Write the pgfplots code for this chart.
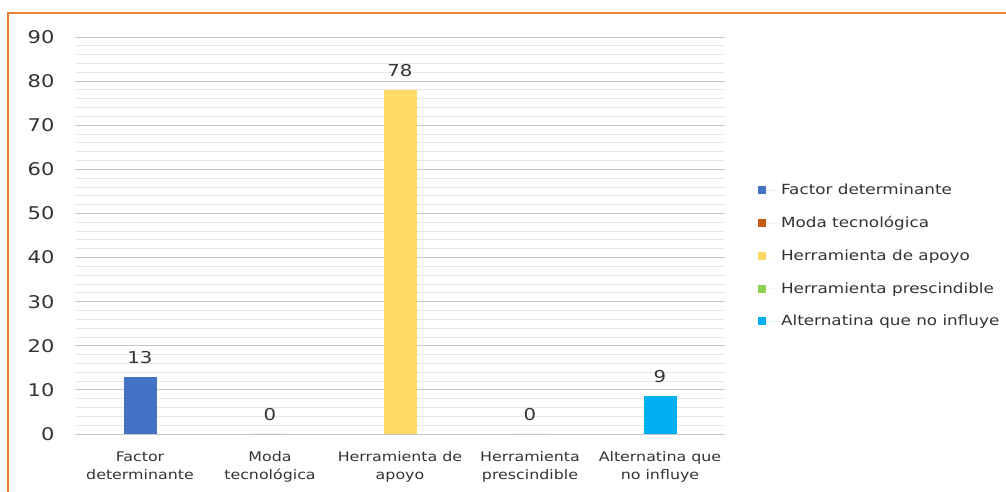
\documentclass[border=0pt]{standalone}
\usepackage{fontspec}
\setmainfont{DejaVu Sans}[FakeStretch=1.2]
\usepackage{pgfplots}
\pgfplotsset{compat=1.18}
\definecolor{cblue}{HTML}{4472C4}
\definecolor{corange}{HTML}{C55A11}
\definecolor{cyellow}{HTML}{FFD966}
\definecolor{cgreen}{HTML}{92D050}
\definecolor{ccyan}{HTML}{00B0F0}
\definecolor{frame}{HTML}{ED7D31}
\definecolor{txt}{HTML}{333333}
\begin{document}
\begin{tikzpicture}[x=1pt,y=1pt]
\useasboundingbox (0,0) rectangle (1006,492);
\draw[frame, line width=2.5pt] (8,0) -- (8,479) -- (1006,479);
\begin{axis}[
    at={(75pt,58pt)}, anchor=south west,
    scale only axis, width=650pt, height=397pt,
    xmin=-0.5, xmax=4.5, ymin=0, ymax=90,
    ybar, bar width=33pt, bar shift=0pt,
    axis line style={draw=none},
    major tick length=0pt, minor tick length=0pt,
    ytick={0,10,...,90}, minor y tick num=4,
    ymajorgrids, yminorgrids,
    major grid style={gray!45, line width=0.9pt},
    minor grid style={gray!18, line width=0.9pt},
    xtick={0,1,2,3,4},
    xticklabels={Factor\\determinante, Moda\\tecnológica, Herramienta de\\apoyo,
        Herramienta\\prescindible, Alternatina que\\no influye},
    x tick label style={font=\fontsize{13.2}{18}\selectfont, align=center,
        text=txt, yshift=-14pt},
    y tick label style={font=\fontsize{17.5}{20}\selectfont, text=txt, xshift=-17pt},
    /pgf/number format/assume math mode=true,
    nodes near coords={\pgfmathprintnumber[fixed,precision=0]{\pgfplotspointmeta}},
    nodes near coords style={font=\fontsize{16.4}{19}\selectfont, text=txt, yshift=10pt},
    legend style={at={(1.046,0.640)}, anchor=north west, draw=none,
        font=\fontsize{14}{17}\selectfont, text=txt, row sep=16.5pt,
        legend cell align=left},
    legend image code/.code={\fill[#1] (0pt,-4pt) rectangle (8pt,4pt);
        \path (0pt,0pt) -- (21pt,0pt);},
]
\addplot[fill=cblue, draw=none] coordinates {(0,12.9)};
\addlegendentry{Factor determinante}
\addplot[fill=corange, draw=none] coordinates {(1,0)};
\addlegendentry{Moda tecnológica}
\addplot[fill=cyellow, draw=none] coordinates {(2,78)};
\addlegendentry{Herramienta de apoyo}
\addplot[fill=cgreen, draw=none] coordinates {(3,0)};
\addlegendentry{Herramienta prescindible}
\addplot[fill=ccyan, draw=none] coordinates {(4,8.6)};
\addlegendentry{Alternatina que no influye}
\end{axis}
\end{tikzpicture}
\end{document}
